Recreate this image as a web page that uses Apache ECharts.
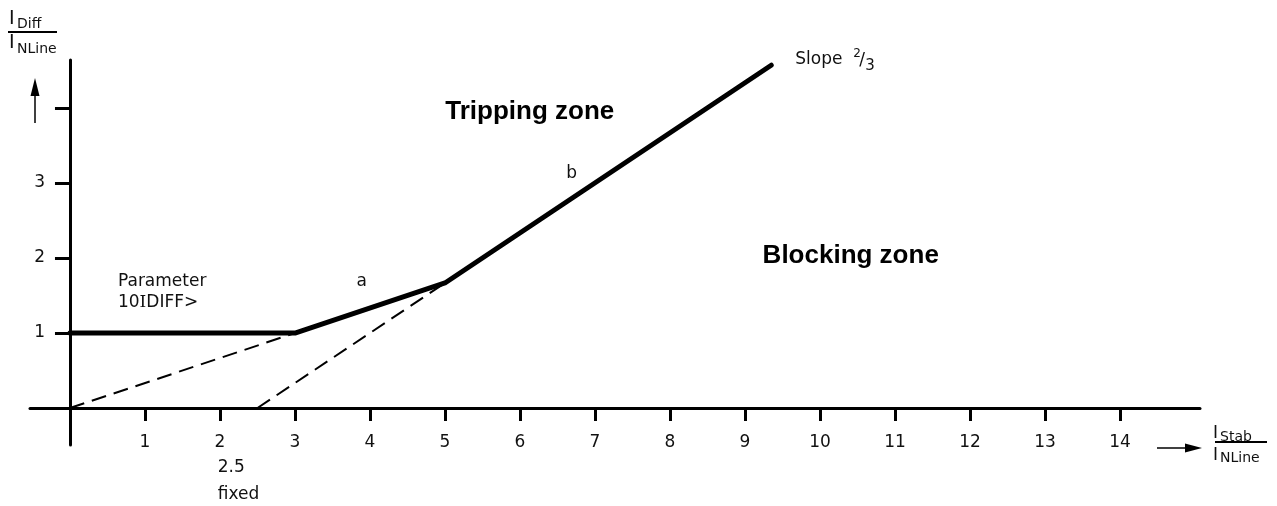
<!DOCTYPE html>
<html>
<head>
<meta charset="utf-8">
<script src="https://cdn.jsdelivr.net/npm/echarts@6/dist/echarts.min.js"></script>
<style>
  html, body { margin: 0; padding: 0; background: #fff; }
  #chart { width: 1277px; height: 506px; }
</style>
</head>
<body>
<div id="chart"></div>
<script>
// Axis ticks and labels
const xTickValues = [1, 2, 3, 4, 5, 6, 7, 8, 9, 10, 11, 12, 13, 14];
const yTickValues = [1, 2, 3, 4];
const yLabelValues = [1, 2, 3];

// Tripping characteristic: base value, section a (slope 1/3), section b (slope 2/3)
const curveX = [0, 3, 5, 9.35];
const curveY = [1, 1, 1.667, 4.57];

// Dashed construction lines
const dashAX = [0, 3];
const dashAY = [0, 1];
const dashBX = [2.5, 5];
const dashBY = [0, 1.667];

// Text annotations in data coordinates
const annoText = ['Tripping zone', 'Blocking zone', 'a', 'b', 'Parameter', '2.5', 'fixed'];
const annoX = [6.13, 10.41, 3.89, 6.69, 0.64, 1.97, 1.97];
const annoY = [3.95, 2.03, 1.69, 3.12, 1.69, -0.80, -1.16];

const FONT = 'DejaVu Sans';
const INK = '#111';

const zip = (xs, ys) => xs.map((x, i) => [x, ys[i]]);

const chart = echarts.init(document.getElementById('chart'), null, { renderer: 'canvas' });

// The axis lines cross at the origin; labels are placed back towards the plot
// area with negative margins since they are measured from the grid edge.
chart.setOption({
  animation: false,
  backgroundColor: '#fff',
  grid: { left: 30, right: 77, top: 60, bottom: 61, containLabel: false, outerBoundsMode: 'none' },
  xAxis: {
    type: 'value',
    min: -0.533, max: 15.067,
    splitLine: { show: false },
    axisLine: { onZero: true, lineStyle: { color: '#000', width: 3 } },
    axisTick: { show: true, customValues: xTickValues, length: 13, lineStyle: { color: '#000', width: 3 } },
    axisLabel: { customValues: xTickValues, margin: -11, fontSize: 17, fontFamily: FONT, color: INK }
  },
  yAxis: {
    type: 'value',
    min: -0.493, max: 4.64,
    splitLine: { show: false },
    axisLine: { onZero: true, lineStyle: { color: '#000', width: 3 } },
    axisTick: { show: true, customValues: yTickValues, length: 15, lineStyle: { color: '#000', width: 3 } },
    axisLabel: { customValues: yLabelValues, margin: -15, padding: [4, 0, 0, 0], fontSize: 17, fontFamily: FONT, color: INK }
  },
  series: [
    {
      type: 'line', data: zip(dashAX, dashAY), symbol: 'none', z: 2,
      lineStyle: { color: '#000', width: 2, type: [15, 8] }
    },
    {
      type: 'line', data: zip(dashBX, dashBY), symbol: 'none', z: 2,
      lineStyle: { color: '#000', width: 2, type: [15, 8] }
    },
    {
      type: 'line', data: zip(curveX, curveY), symbol: 'none', z: 3,
      lineStyle: { color: '#000', width: 5, cap: 'round', join: 'round' }
    }
  ]
});

const px = (x, y) => chart.convertToPixel({ gridIndex: 0 }, [x, y]);

function txt(x, y, text, opt) {
  return {
    type: 'text', z: 10,
    style: Object.assign({
      x: x, y: y, text: text, fill: INK,
      font: '17px "' + FONT + '"',
      textAlign: 'left', textVerticalAlign: 'middle'
    }, opt || {})
  };
}

const g = [];

// Zone names
const bold = 'bold 26px "Liberation Sans"';
let p = px(annoX[0], annoY[0]); g.push(txt(p[0], p[1], annoText[0], { font: bold, textAlign: 'center', fill: '#000' }));
p = px(annoX[1], annoY[1]); g.push(txt(p[0], p[1], annoText[1], { font: bold, textAlign: 'center', fill: '#000' }));
// Section names
p = px(annoX[2], annoY[2]); g.push(txt(p[0], p[1], annoText[2], { textAlign: 'center' }));
p = px(annoX[3], annoY[3]); g.push(txt(p[0], p[1], annoText[3], { textAlign: 'center' }));
// Parameter name
p = px(annoX[4], annoY[4]); g.push(txt(p[0], p[1], annoText[4]));
const p2 = px(annoX[4], annoY[4] - 0.28);
g.push({
  type: 'text', z: 10,
  style: {
    x: p2[0], y: p2[1], textVerticalAlign: 'middle', fill: INK,
    text: '{n|10}{s|I}{n|DIFF>}',
    rich: {
      n: { fontSize: 17, fontFamily: FONT, fill: INK },
      s: { fontSize: 17, fontFamily: 'DejaVu Serif', fill: INK }
    }
  }
});
// Fixed foot point of section b
p = px(annoX[5], annoY[5]); g.push(txt(p[0], p[1], annoText[5]));
p = px(annoX[6], annoY[6]); g.push(txt(p[0], p[1], annoText[6]));

// Slope 2/3 label at the end of section b
p = px(9.67, 4.64);
g.push(txt(p[0], p[1], 'Slope'));
g.push(txt(p[0] + 58, p[1] - 6, '2', { font: '12px "' + FONT + '"' }));
g.push(txt(p[0] + 64, p[1] + 1, '/', { font: '17px "' + FONT + '"' }));
g.push(txt(p[0] + 70, p[1] + 6, '3', { font: '15px "' + FONT + '"' }));

// Y axis quantity: I_Diff / I_NLine
g.push(txt(9, 19.5, 'I', { font: '19px "' + FONT + '"' }));
g.push(txt(17, 24.5, 'Diff', { font: '14px "' + FONT + '"' }));
g.push({ type: 'line', z: 10, shape: { x1: 8, y1: 32, x2: 57, y2: 32 }, style: { stroke: '#000', lineWidth: 2 } });
g.push(txt(9, 43.5, 'I', { font: '19px "' + FONT + '"' }));
g.push(txt(17, 49.5, 'NLine', { font: '14px "' + FONT + '"' }));
// Y arrow
g.push({ type: 'line', z: 10, shape: { x1: 35, y1: 123, x2: 35, y2: 92 }, style: { stroke: '#000', lineWidth: 1.5 } });
g.push({ type: 'polygon', z: 10, shape: { points: [[35, 78], [30.5, 96], [39.5, 96]] }, style: { fill: '#000' } });

// X axis quantity: I_Stab / I_NLine
g.push(txt(1213, 434, 'I', { font: '17px "' + FONT + '"' }));
g.push(txt(1220, 437, 'Stab', { font: '14px "' + FONT + '"' }));
g.push({ type: 'line', z: 10, shape: { x1: 1215, y1: 442, x2: 1267, y2: 442 }, style: { stroke: '#000', lineWidth: 2 } });
g.push(txt(1213, 456, 'I', { font: '17px "' + FONT + '"' }));
g.push(txt(1220, 458.5, 'NLine', { font: '14px "' + FONT + '"' }));
// X arrow
g.push({ type: 'line', z: 10, shape: { x1: 1157, y1: 448, x2: 1190, y2: 448 }, style: { stroke: '#000', lineWidth: 1.5 } });
g.push({ type: 'polygon', z: 10, shape: { points: [[1202, 448], [1185, 443.5], [1185, 452.5]] }, style: { fill: '#000' } });

chart.setOption({ graphic: g });
</script>
</body>
</html>
